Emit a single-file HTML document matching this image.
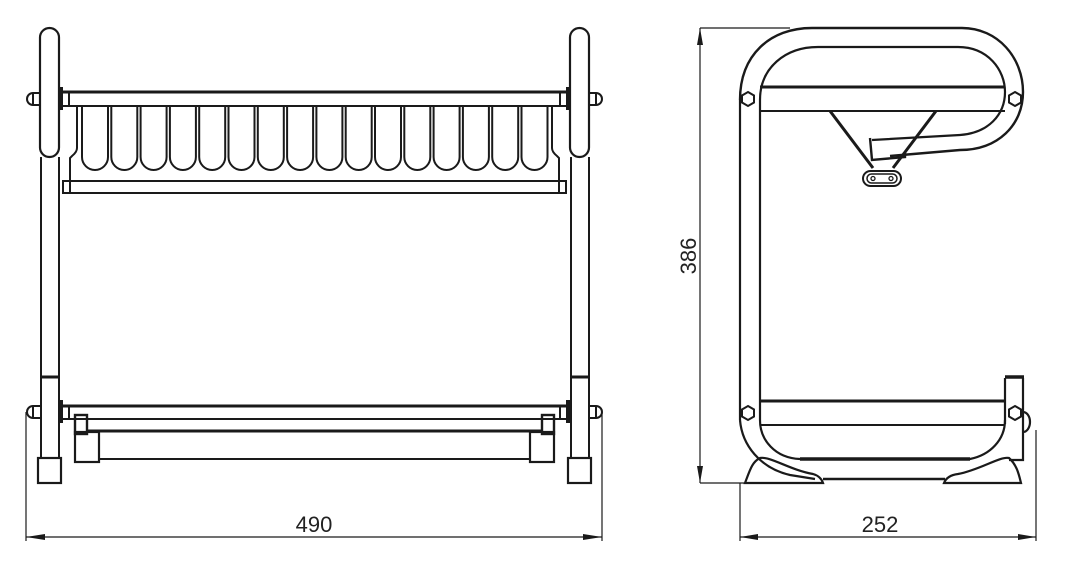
<!DOCTYPE html>
<html><head><style>
html,body{margin:0;padding:0;background:#fff;}
svg{display:block;}
text{font-family:"Liberation Sans",sans-serif;fill:#222;}
</style></head><body>
<svg width="1068" height="563" viewBox="0 0 1068 563" xmlns="http://www.w3.org/2000/svg" fill="none" stroke="#1a1a1a" stroke-width="2">
<!-- LEFT VIEW -->
<!-- posts -->
<g id="postL">
<rect x="40" y="28" width="19" height="129" rx="9.5" fill="#fff" stroke-width="2.2"/>
<line x1="41" y1="157" x2="41" y2="458"/><line x1="59" y1="157" x2="59" y2="458"/>
<line x1="41" y1="377" x2="59" y2="377" stroke-width="3"/>
<rect x="38" y="458" width="23" height="25" stroke-width="2.2"/>
</g>
<g>
<rect x="570" y="28" width="19" height="129" rx="9.5" fill="#fff" stroke-width="2.2"/>
<line x1="571" y1="157" x2="571" y2="458"/><line x1="589" y1="157" x2="589" y2="458"/>
<line x1="571" y1="377" x2="589" y2="377" stroke-width="3"/>
<rect x="568" y="458" width="23" height="25" stroke-width="2.2"/>
</g>
<!-- knobs -->
<path d="M40,93 H33 A6,6 0 0 0 33,105 H40 M33,93 V105"/>
<path d="M589,93 H596 A6,6 0 0 1 596,105 H589 M596,93 V105"/>
<path d="M40,406 H33 A6,6 0 0 0 33,418 H40 M33,406 V418"/>
<path d="M589,406 H596 A6,6 0 0 1 596,418 H589 M596,406 V418"/>
<!-- collars -->
<line x1="61" y1="87" x2="61" y2="110" stroke-width="4"/>
<line x1="568" y1="87" x2="568" y2="110" stroke-width="4"/>
<line x1="61" y1="400" x2="61" y2="423" stroke-width="4"/>
<line x1="568" y1="400" x2="568" y2="423" stroke-width="4"/>
<!-- top rail -->
<line x1="62" y1="92" x2="567" y2="92" stroke-width="3"/>
<line x1="62" y1="106" x2="567" y2="106"/>
<line x1="69" y1="92" x2="69" y2="106"/><line x1="560" y1="92" x2="560" y2="106"/>
<!-- slots -->
<g id="slots">
<path d="M82,106V157a13,13 0 0 0 26,0V106"/><path d="M111.3,106V157a13,13 0 0 0 26,0V106"/>
<path d="M140.6,106V157a13,13 0 0 0 26,0V106"/><path d="M169.9,106V157a13,13 0 0 0 26,0V106"/>
<path d="M199.2,106V157a13,13 0 0 0 26,0V106"/><path d="M228.5,106V157a13,13 0 0 0 26,0V106"/>
<path d="M257.8,106V157a13,13 0 0 0 26,0V106"/><path d="M287.1,106V157a13,13 0 0 0 26,0V106"/>
<path d="M316.4,106V157a13,13 0 0 0 26,0V106"/><path d="M345.7,106V157a13,13 0 0 0 26,0V106"/>
<path d="M375,106V157a13,13 0 0 0 26,0V106"/><path d="M404.3,106V157a13,13 0 0 0 26,0V106"/>
<path d="M433.6,106V157a13,13 0 0 0 26,0V106"/><path d="M462.9,106V157a13,13 0 0 0 26,0V106"/>
<path d="M492.2,106V157a13,13 0 0 0 26,0V106"/><path d="M521.5,106V157a13,13 0 0 0 26,0V106"/>
</g>
<path d="M77,106 V148 Q77,152 72,156 L70,158 V181"/>
<path d="M552,106 V148 Q552,152 557,156 L559,158 V181"/>
<!-- plate bar -->
<rect x="63" y="181" width="503" height="12"/>
<line x1="70" y1="181" x2="70" y2="193"/><line x1="559" y1="181" x2="559" y2="193"/>
<!-- lower rail -->
<line x1="62" y1="406" x2="567" y2="406" stroke-width="3"/>
<line x1="62" y1="419" x2="567" y2="419"/>
<line x1="69" y1="406" x2="69" y2="419"/><line x1="560" y1="406" x2="560" y2="419"/>
<line x1="87" y1="431" x2="542" y2="431" stroke-width="3"/>
<line x1="99" y1="459" x2="530" y2="459"/>
<rect x="75" y="415" width="12" height="19" stroke-width="2.4"/>
<rect x="75" y="432" width="24" height="30" stroke-width="2.2"/>
<rect x="542" y="415" width="12" height="19" stroke-width="2.4"/>
<rect x="530" y="432" width="24" height="30" stroke-width="2.2"/>
<!-- dim 490 -->
<g stroke-width="1.2">
<line x1="26" y1="412" x2="26" y2="541"/><line x1="602" y1="412" x2="602" y2="541"/>
<line x1="26" y1="537" x2="602" y2="537"/>
</g>
<path d="M26,537 L45,534 L45,540Z M602,537 L583,534 L583,540Z" fill="#1a1a1a" stroke="none"/>
<text x="314" y="532" font-size="22" text-anchor="middle" stroke="none">490</text>

<!-- RIGHT VIEW -->
<!-- outer frame -->
<path d="M740,100 C740,55 770,28 812,28 L962,28 C998,28 1023,58 1023,92 C1023,125 998,150 960,150 L890,156" stroke-width="2.4"/>
<path d="M760,100 C760,68 785,47 818,47 L958,47 C988,47 1005,70 1005,92 C1005,115 988,133 960,135 L872,140" stroke-width="2.2"/>
<path d="M870,138 L872,160 L905,157 L905,152" stroke-width="2.4"/>
<line x1="740" y1="100" x2="740" y2="420" stroke-width="2.2"/>
<line x1="760" y1="100" x2="760" y2="420" stroke-width="2.2"/>
<!-- top shelf -->
<line x1="760" y1="87" x2="1005" y2="87" stroke-width="3"/>
<line x1="760" y1="111" x2="1005" y2="111" stroke-width="2"/>
<!-- braces -->
<line x1="830" y1="111" x2="873" y2="168" stroke-width="3"/>
<line x1="936" y1="111" x2="893" y2="168" stroke-width="3"/>
<rect x="863" y="171" width="38" height="15" rx="7.5" fill="#fff" stroke-width="2"/>
<rect x="867" y="174" width="30" height="9" rx="4.5" stroke-width="1.5"/>
<circle cx="873" cy="178.5" r="2" stroke-width="1.3"/><circle cx="891" cy="178.5" r="2" stroke-width="1.3"/>
<!-- nuts -->
<g fill="#fff" stroke-width="2">
<polygon points="748,92 754,95.5 754,102.5 748,106 742,102.5 742,95.5"/>
<polygon points="1015,92 1021,95.5 1021,102.5 1015,106 1009,102.5 1009,95.5"/>
<polygon points="748,406 754,409.5 754,416.5 748,420 742,416.5 742,409.5"/>
<polygon points="1015,406 1021,409.5 1021,416.5 1015,420 1009,416.5 1009,409.5"/>
</g>
<!-- bottom -->
<path d="M740,420 C742,445 760,468 790,475 L815,479" stroke-width="2.2"/>
<path d="M760,420 C760,440 775,458 800,459 L970,459 C990,455 1005,440 1005,420" stroke-width="2.2"/>
<line x1="800" y1="459" x2="970" y2="459" stroke-width="3.5"/>
<line x1="760" y1="401" x2="1005" y2="401" stroke-width="3"/>
<line x1="760" y1="425" x2="1005" y2="425" stroke-width="2"/>
<line x1="823" y1="479" x2="945" y2="479" stroke-width="2.4"/>
<!-- feet -->
<path d="M745,483 C750,470 752,462 760,458 C770,456 790,470 813,474 C820,476 822,480 823,483 Z" stroke-width="2.2"/>
<path d="M944,483 C946,478 950,475 958,474 C980,470 1000,456 1009,458 C1017,465 1019,475 1021,483 Z" stroke-width="2.2"/>
<!-- right post -->
<path d="M1005,378 V424 M1023,378 V460 H1009" stroke-width="2.2"/>
<line x1="1005" y1="377" x2="1024" y2="377" stroke-width="3.5"/>
<path d="M1023,412 A7,10 0 0 1 1023,432" stroke-width="2.2"/>
<!-- dim 386 -->
<g stroke-width="1.2">
<line x1="700" y1="28" x2="790" y2="28"/><line x1="700" y1="483" x2="750" y2="483"/>
<line x1="700" y1="28" x2="700" y2="483"/>
<line x1="740" y1="483" x2="740" y2="541"/><line x1="1036" y1="430" x2="1036" y2="541"/>
<line x1="740" y1="537" x2="1036" y2="537"/>
</g>
<path d="M700,28 L697,45 L703,45Z M700,483 L697,466 L703,466Z M740,537 L758,534 L758,540Z M1036,537 L1018,534 L1018,540Z" fill="#1a1a1a" stroke="none"/>
<text x="880" y="532" font-size="22" text-anchor="middle" stroke="none">252</text>
<text transform="translate(696,256) rotate(-90)" font-size="22" text-anchor="middle" stroke="none">386</text>
</svg>
</body></html>
